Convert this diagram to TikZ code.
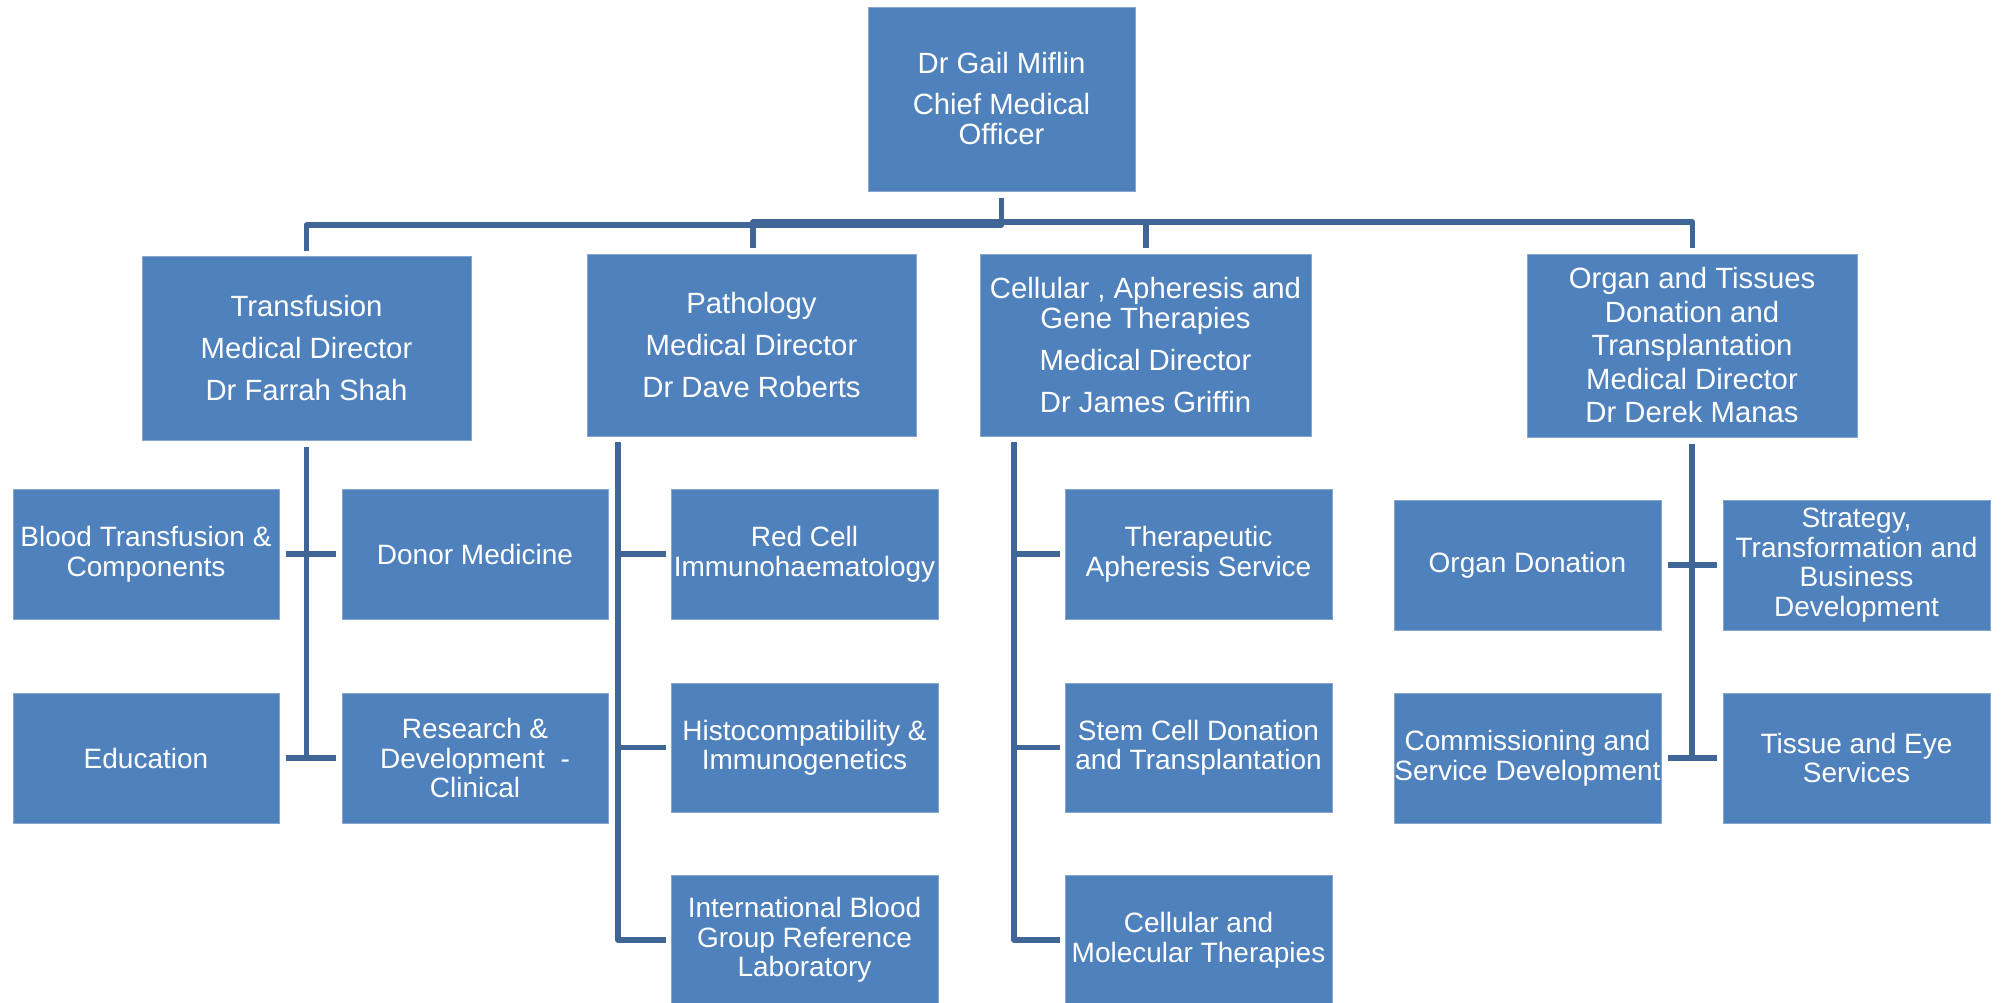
\documentclass[tikz,border=0pt]{standalone}
\usepackage{fontspec}
\setmainfont{Liberation Sans}
\definecolor{boxfill}{RGB}{79,129,189}
\definecolor{boxline}{RGB}{135,166,208}
\definecolor{conn}{RGB}{64,102,152}
\begin{document}
\begin{tikzpicture}[x=1pt,y=-1pt,
  box/.style={rectangle, fill=boxfill, draw=boxline, line width=1pt, inner sep=0pt,
    text=white, align=center, font=\fontsize{28}{29.5}\selectfont},
  head/.style={box, minimum width=330pt, minimum height=183pt, font=\fontsize{29.3}{30.5}\selectfont},
  leaf/.style={box, minimum width=267pt, minimum height=130pt},
  wire/.style={draw=conn, line width=5.5pt, line join=round},
]
\useasboundingbox (0,0) rectangle (2001,1002);
\fill[white] (0,0) rectangle (2001,1002);

% top
\node[box, minimum width=267pt, minimum height=184pt, font=\fontsize{29.3}{30}\selectfont] (top) at (1001.5,99)
  {Dr Gail Miflin\\[11pt]Chief Medical\\Officer};

% heads
\node[head, minimum width=329pt, minimum height=184pt] (trans) at (306.5,348)
  {Transfusion\\[11.5pt]Medical Director\\[11.5pt]Dr Farrah Shah};
\node[head, minimum width=329pt, minimum height=182pt] (path) at (751.5,345)
  {Pathology\\[11.5pt]Medical Director\\[11.5pt]Dr Dave Roberts};
\node[head, minimum width=331pt, minimum height=182pt] (cell) at (1145.5,345)
  {Cellular , Apheresis and\\Gene Therapies\\[11.5pt]Medical Director\\[11.5pt]Dr James Griffin};
\node[head, font=\fontsize{29.3}{33.5}\selectfont] (organ) at (1692,345.5)
  {Organ and Tissues\\Donation and\\Transplantation\\Medical Director\\Dr Derek Manas};

% transfusion children
\node[leaf, minimum width=266pt] (bt) at (146,554) {Blood Transfusion \&\\Components};
\node[leaf, minimum width=266pt] (dm) at (475,554) {Donor Medicine};
\node[leaf, minimum width=266pt] (edu) at (146,758) {Education};
\node[leaf, minimum width=266pt] (rd) at (475,758) {Research \&\\Development\ \ -\\Clinical};

% pathology children
\node[leaf] (rc) at (804.5,554) {Red Cell\\Immunohaematology};
\node[leaf, minimum height=129pt] (hi) at (804.5,747.5) {Histocompatibility \&\\Immunogenetics};
\node[leaf] (ib) at (804.5,940) {International Blood\\Group Reference\\Laboratory};

% cellular children
\node[leaf] (ta) at (1198.5,554) {Therapeutic\\Apheresis Service};
\node[leaf, minimum height=129pt] (sc) at (1198.5,747.5) {Stem Cell Donation\\and Transplantation};
\node[leaf] (cm) at (1198.5,940) {Cellular and\\Molecular Therapies};

% organ children
\node[leaf] (od) at (1527.5,565) {Organ Donation};
\node[leaf] (st) at (1856.5,565) {Strategy,\\Transformation and\\Business\\Development};
\node[leaf] (co) at (1527.5,758) {Commissioning and\\Service Development};
\node[leaf] (te) at (1856.5,758) {Tissue and Eye\\Services};

% top-level connectors
\coordinate (jL) at (1001.5,225);
\coordinate (jR) at (1001.5,222);
\draw[wire] ([yshift=-6pt]top.south) -- (jL) -| ([yshift=5pt]trans.north);
\draw[wire] ([yshift=-6pt]top.south) -- (jR) -| ([xshift=1.5pt,yshift=6pt]path.north);
\draw[wire] ([yshift=-6pt]top.south) -- (jR) -| ([xshift=0.5pt,yshift=6pt]cell.north);
\draw[wire] ([yshift=-6pt]top.south) -- (jR) -| ([xshift=0.5pt,yshift=6pt]organ.north);

% transfusion branch
\draw[wire] ([yshift=-6pt]trans.south) -- (trans.south |- edu.east);
\draw[wire] ([xshift=6pt]bt.east) -- ([xshift=-6pt]dm.west);
\draw[wire] ([xshift=6pt]edu.east) -- ([xshift=-6pt]rd.west);

% pathology branch
\coordinate (pstem) at (618,442);
\draw[wire] (pstem) |- ([xshift=-5pt]ib.west);
\draw[wire] (pstem |- rc.west) -- ([xshift=-5pt]rc.west);
\draw[wire] (pstem |- hi.west) -- ([xshift=-5pt]hi.west);

% cellular branch
\coordinate (cstem) at (1014,442);
\draw[wire] (cstem) |- ([xshift=-5pt]cm.west);
\draw[wire] (cstem |- ta.west) -- ([xshift=-5pt]ta.west);
\draw[wire] (cstem |- sc.west) -- ([xshift=-5pt]sc.west);

% organ branch
\draw[wire] ([yshift=-6pt]organ.south) -- (organ.south |- co.east);
\draw[wire] ([xshift=6pt]od.east) -- ([xshift=-6pt]st.west);
\draw[wire] ([xshift=6pt]co.east) -- ([xshift=-6pt]te.west);
\end{tikzpicture}
\end{document}
